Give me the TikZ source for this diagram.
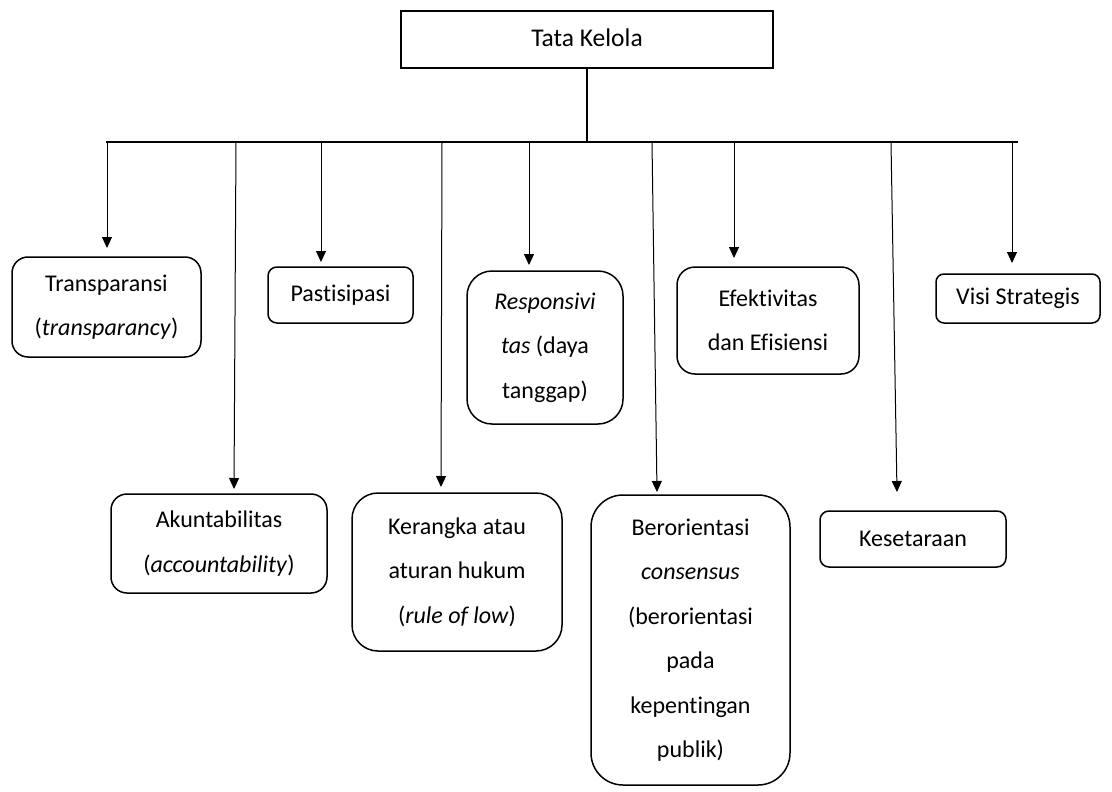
\documentclass[tikz,border=0pt]{standalone}
\usepackage{fontspec}
\setmainfont[Ligatures={NoCommon}]{Carlito}
\usetikzlibrary{arrows.meta}
\begin{document}
\begin{tikzpicture}[x=1pt,y=-1pt,
  rbox/.style={draw, line width=1.5pt, align=center, inner sep=0pt, font=\fontsize{24}{44.5}\selectfont},
  topbox/.style={draw, line width=1.6pt, inner sep=0pt, font=\fontsize{25.5}{30}\selectfont},
  link/.style={line width=1.6pt},
  drop/.style={line width=1pt, -{Triangle[length=11pt,width=10pt]}}
]
\useasboundingbox (0,0) rectangle (1112,792);

% top node
\node[topbox, minimum width=372pt, minimum height=57pt] (top) at (587,39.5) {\raisebox{4pt}{Tata Kelola}};

% boxes
\node[rbox, rounded corners=16pt, minimum width=189pt, minimum height=100pt] (t1) at (106.5,307) {Transparansi\\(\textit{transparancy})};
\node[rbox, rounded corners=16pt, minimum width=216pt, minimum height=99pt] (t2) at (219,543.5) {Akuntabilitas\\(\textit{accountability})};
\node[rbox, rounded corners=9pt, minimum width=145pt, minimum height=56pt] (t3) at (340.5,295) {Pastisipasi};
\node[rbox, rounded corners=26pt, minimum width=210pt, minimum height=158pt] (t4) at (457,572) {Kerangka atau\\aturan hukum\\(\textit{rule of low})};
\node[rbox, rounded corners=25pt, minimum width=156pt, minimum height=153pt] (t5) at (545,347.5) {\textit{Responsivi}\\\textit{tas} (daya\\tanggap)};
\node[rbox, rounded corners=32pt, minimum width=199pt, minimum height=290pt] (t6) at (690.5,640) {Berorientasi\\\textit{consensus}\\(berorientasi\\pada\\kepentingan\\publik)};
\node[rbox, rounded corners=18pt, minimum width=182pt, minimum height=107pt] (t7) at (768,320.5) {Efektivitas\\dan Efisiensi};
\node[rbox, rounded corners=9pt, minimum width=186pt, minimum height=56pt] (t8) at (913,539) {Kesetaraan};
\node[rbox, rounded corners=8pt, minimum width=164pt, minimum height=49pt] (t9) at (1018,298.5) {Visi Strategis};

% bus
\coordinate (busL) at (106,142);
\coordinate (busR) at (1018,142);
\draw[link] (busL) -- (busR);
\draw[link] (top.south) -- (top.south |- busL);

% drop points on bus and arrow tips
\coordinate (b1) at (107,142);  \coordinate (e1) at (107,248);
\coordinate (b2) at (236,142);  \coordinate (e2) at (234,489);
\coordinate (b3) at (321,142);  \coordinate (e3) at (321,262);
\coordinate (b4) at (442,142);  \coordinate (e4) at (441,487);
\coordinate (b5) at (529,142);  \coordinate (e5) at (529,265);
\coordinate (b6) at (652,142);  \coordinate (e6) at (657,492);
\coordinate (b7) at (734,142);  \coordinate (e7) at (734,258);
\coordinate (b8) at (891,142);  \coordinate (e8) at (897,492);
\coordinate (b9) at (1012,142); \coordinate (e9) at (1012,263);

\foreach \i in {1,...,9} {\draw[drop] (b\i) -- (e\i);}
\end{tikzpicture}
\end{document}
